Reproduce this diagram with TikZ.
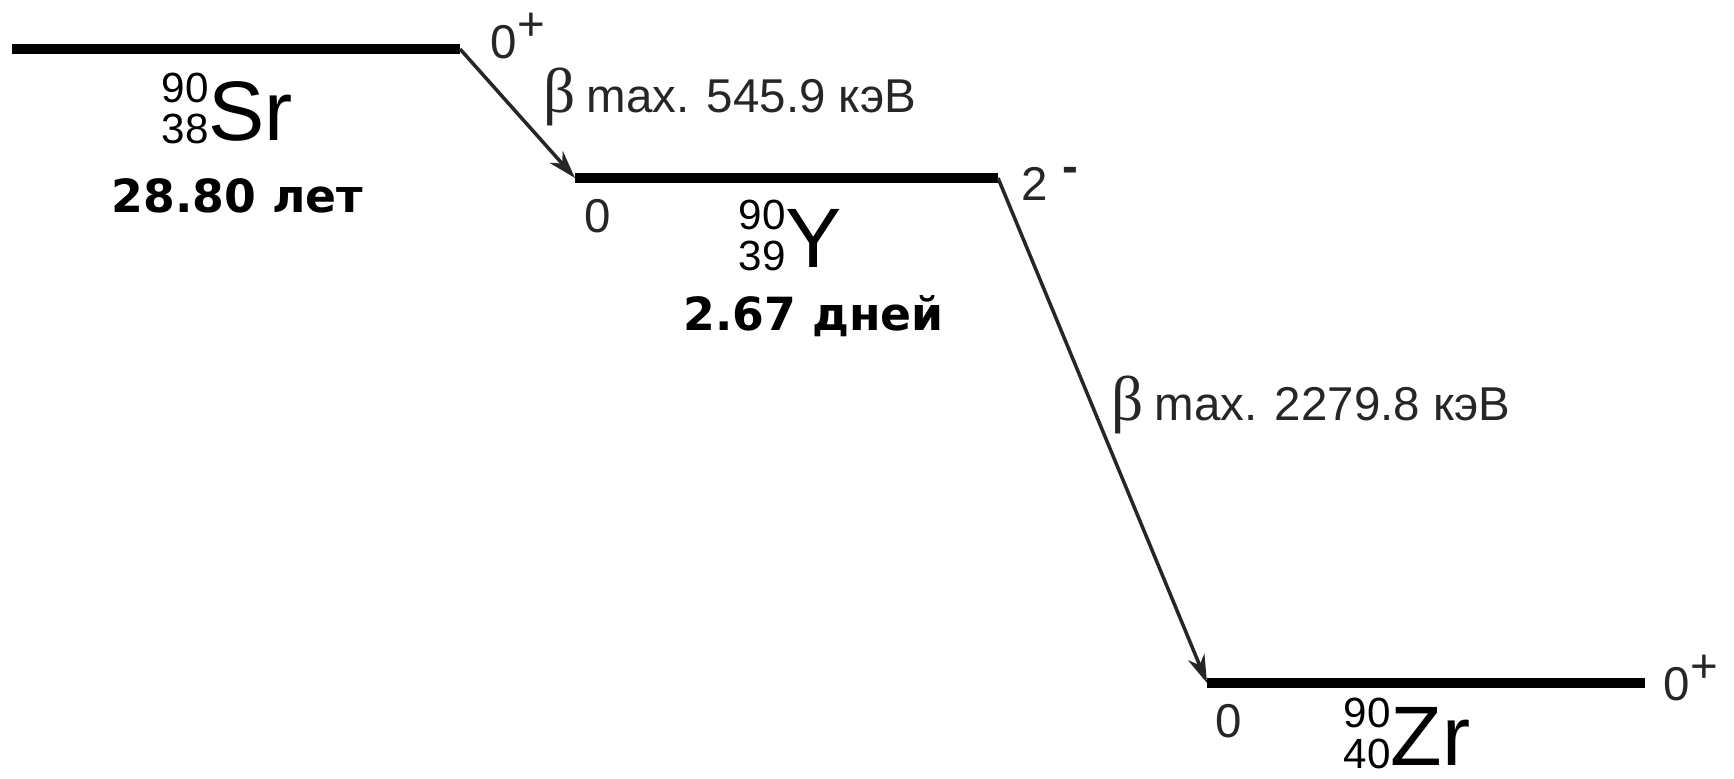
\documentclass[tikz,border=0pt]{standalone}
\usepackage{fontspec}
\setmainfont{Liberation Sans}
\newfontfamily\halffont{DejaVu Sans}
\newfontfamily\greekfont{Liberation Serif}
\usetikzlibrary{arrows.meta}

\newcommand\nuclide[3]{\raisebox{-1.1pt}{\fontsize{12}{11.7}\selectfont
  \begin{tabular}[b]{@{}r@{}}#1\\#2\end{tabular}}#3}
\newcommand\betamax{{\greekfont\fontsize{18}{18}\selectfont β}\hspace{3pt}}

\begin{document}
\begin{tikzpicture}[x=0.01cm,y=-0.01cm,
    level/.style={line width=2.6pt},
    decay/.style={line width=1pt,black!85,-{Stealth[length=8pt,width=5pt,inset=2.5pt]}},
    lbl/.style={inner sep=0pt,anchor=base west,text=black!85,font=\fontsize{13.5}{16}\selectfont},
    nuc/.style={inner sep=0pt,anchor=base west,font=\fontsize{24}{28}\selectfont},
    halflife/.style={inner sep=0pt,anchor=base west,font=\halffont\bfseries\fontsize{13}{16}\selectfont}]
  \useasboundingbox (0,0) rectangle (1734,778);

  % levels
  \coordinate (sr-l) at (12,49);
  \coordinate (sr-r) at (460,49);
  \coordinate (y-l) at (575,178);
  \coordinate (y-r) at (998,178);
  \coordinate (zr-l) at (1207,683);
  \coordinate (zr-r) at (1645,683);
  \draw[level] (sr-l) -- (sr-r);
  \draw[level] (y-l) -- (y-r);
  \draw[level] (zr-l) -- (zr-r);

  % beta transitions
  \draw[decay] (sr-r) -- (y-l);
  \draw[decay] (y-r) -- (zr-l);

  \node[lbl] (sr-spin) at (490,58) {0\raisebox{5pt}{+}};
  \node[nuc] (sr-nuc) at (161,140) {\nuclide{90}{38}{Sr}};
  \node[halflife] (sr-half) at (111,212) {28.80 лет};
  \node[lbl] (beta1) at (543,112) {\betamax max. 545.9 кэВ};

  \node[lbl] (y-e) at (584,232) {0};
  \node[lbl] (y-spin) at (1021,200) {2\hspace{4pt}\raisebox{5pt}{\bfseries -}};
  \node[nuc] (y-nuc) at (738,267) {\nuclide{90}{39}{Y}};
  \node[halflife] (y-half) at (683,330) {2.67 дней};
  \node[lbl] (beta2) at (1111,420) {\betamax max. 2279.8 кэВ};

  \node[lbl] (zr-e) at (1215,737) {0};
  \node[nuc] (zr-nuc) at (1343,765) {\nuclide{90}{40}{Zr}};
  \node[lbl] (zr-spin) at (1663,700) {0\raisebox{5pt}{+}};
\end{tikzpicture}
\end{document}
